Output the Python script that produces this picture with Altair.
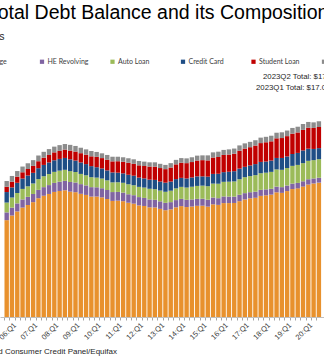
import altair as alt
import pandas as pd

# ---------------- data (trillions of dollars) ----------------
quarters = ["2005Q4"] + [f"{y}Q{q}" for y in range(2006, 2020) for q in range(1, 5)] + ["2020Q1", "2020Q2", "2020Q3"]

mortgage = [7.10,
            7.44, 7.74, 8.02, 8.21,
            8.42, 8.71, 8.89, 9.02,
            9.17, 9.24, 9.29, 9.19,
            9.15, 9.03, 8.95, 8.83,
            8.83, 8.77, 8.65, 8.51,
            8.53, 8.49, 8.38, 8.31,
            8.18, 8.14, 8.04, 8.03,
            7.93, 7.83, 7.89, 8.04,
            8.13, 8.06, 8.10, 8.15,
            8.16, 8.09, 8.26, 8.22,
            8.35, 8.35, 8.36, 8.49,
            8.62, 8.70, 8.74, 8.88,
            8.92, 8.97, 9.14, 9.10,
            9.23, 9.38, 9.43, 9.56,
            9.71, 9.79, 9.85]
he_revolving = [0.57,
                0.58, 0.59, 0.60, 0.60,
                0.60, 0.61, 0.63, 0.65,
                0.66, 0.68, 0.69, 0.71,
                0.71, 0.71, 0.70, 0.69,
                0.68, 0.67, 0.66, 0.65,
                0.64, 0.63, 0.62, 0.62,
                0.61, 0.59, 0.58, 0.56,
                0.55, 0.54, 0.53, 0.53,
                0.53, 0.53, 0.52, 0.51,
                0.51, 0.51, 0.50, 0.49,
                0.49, 0.48, 0.47, 0.47,
                0.46, 0.45, 0.45, 0.44,
                0.44, 0.43, 0.42, 0.42,
                0.41, 0.40, 0.40, 0.39,
                0.39, 0.37, 0.36]
auto_loan = [0.72,
             0.74, 0.76, 0.77, 0.77,
             0.77, 0.79, 0.80, 0.81,
             0.81, 0.81, 0.81, 0.79,
             0.77, 0.75, 0.74, 0.73,
             0.71, 0.71, 0.71, 0.71,
             0.71, 0.72, 0.73, 0.73,
             0.75, 0.76, 0.78, 0.78,
             0.79, 0.81, 0.84, 0.86,
             0.88, 0.90, 0.93, 0.95,
             0.96, 0.99, 1.02, 1.06,
             1.07, 1.09, 1.11, 1.14,
             1.17, 1.18, 1.21, 1.22,
             1.22, 1.24, 1.26, 1.27,
             1.28, 1.30, 1.32, 1.33,
             1.35, 1.34, 1.36]
credit_card = [0.77,
               0.74, 0.75, 0.76, 0.79,
               0.78, 0.80, 0.83, 0.85,
               0.85, 0.86, 0.87, 0.87,
               0.84, 0.84, 0.82, 0.81,
               0.76, 0.74, 0.73, 0.73,
               0.70, 0.69, 0.70, 0.70,
               0.68, 0.67, 0.67, 0.68,
               0.66, 0.67, 0.67, 0.68,
               0.66, 0.67, 0.68, 0.70,
               0.68, 0.70, 0.71, 0.73,
               0.71, 0.73, 0.75, 0.78,
               0.76, 0.78, 0.81, 0.83,
               0.82, 0.83, 0.84, 0.87,
               0.85, 0.87, 0.88, 0.93,
               0.89, 0.82, 0.81]
student_loan = [0.39,
                0.42, 0.45, 0.46, 0.48,
                0.51, 0.51, 0.53, 0.55,
                0.58, 0.59, 0.61, 0.64,
                0.66, 0.68, 0.69, 0.72,
                0.76, 0.76, 0.78, 0.81,
                0.84, 0.85, 0.87, 0.87,
                0.90, 0.91, 0.96, 0.97,
                0.99, 0.99, 1.03, 1.08,
                1.11, 1.12, 1.13, 1.16,
                1.19, 1.19, 1.20, 1.23,
                1.26, 1.26, 1.28, 1.31,
                1.34, 1.34, 1.36, 1.38,
                1.41, 1.41, 1.44, 1.46,
                1.49, 1.49, 1.50, 1.51,
                1.54, 1.54, 1.55]
other = [0.42,
         0.42, 0.41, 0.42, 0.42,
         0.42, 0.42, 0.43, 0.43,
         0.42, 0.42, 0.41, 0.42,
         0.41, 0.40, 0.39, 0.39,
         0.36, 0.35, 0.35, 0.34,
         0.33, 0.33, 0.33, 0.33,
         0.32, 0.32, 0.31, 0.32,
         0.31, 0.31, 0.32, 0.33,
         0.34, 0.35, 0.35, 0.36,
         0.35, 0.37, 0.38, 0.39,
         0.37, 0.38, 0.38, 0.39,
         0.38, 0.39, 0.39, 0.40,
         0.40, 0.41, 0.41, 0.42,
         0.41, 0.42, 0.42, 0.43,
         0.42, 0.41, 0.42]

series_names = ["Mortgage", "HE Revolving", "Auto Loan", "Credit Card", "Student Loan", "Other"]
series_colors = ["#E8912D", "#8064A2", "#9BBB59", "#1F4E85", "#C00000", "#8C8C8C"]
series_values = [mortgage, he_revolving, auto_loan, credit_card, student_loan, other]

tick_labels = ["06:Q1", "07:Q1", "08:Q1", "09:Q1", "10:Q1", "11:Q1", "12:Q1", "13:Q1",
               "14:Q1", "15:Q1", "16:Q1", "17:Q1", "18:Q1", "19:Q1", "20:Q1"]

title_text = "Total Debt Balance and its Composition"
subtitle_text = "Trillions of Dollars"
total_lines = ["2023Q2 Total: $17.06 Trillion", "2023Q1 Total: $17.05 Trillion"]
source_text = "Source: New York Fed Consumer Credit Panel/Equifax"

rows = []
for k, (name, vals) in enumerate(zip(series_names, series_values)):
    for i, (q, v) in enumerate(zip(quarters, vals)):
        rows.append({"idx": i, "quarter": q, "series": name, "order": k, "value": v})
df = pd.DataFrame(rows)

# ---------------- layout ----------------
W, H = 324, 246
TOP, BOTTOM = 71, 45
QW = 5.46  # pixels per quarter

label_js = "[" + ",".join(f"'{t}'" for t in tick_labels) + "]"
label_expr = f"((datum.value - 1) % 4 === 0) ? {label_js}[(datum.value - 1) / 4] : ''"

FONT = "Liberation Sans"

bars = alt.Chart(df).mark_bar(size=4.4).encode(
    x=alt.X("idx:Q",
            scale=alt.Scale(domain=[-0.319, 59.02], nice=False, zero=False),
            axis=alt.Axis(values=list(range(len(quarters))), labelExpr=label_expr,
                          labelAngle=-45, labelAlign="right", labelBaseline="top",
                          labelFontSize=7.5, labelFont=FONT, labelColor="#404040",
                          labelPadding=1, labelOverlap=False, labelBound=False, labelFlush=False,
                          tickSize=3, tickOffset=-QW / 2, labelOffset=QW / 2,
                          tickColor="#A6A6A6", domainColor="#BFBFBF", grid=False, title=None)),
    y=alt.Y("value:Q", stack="zero",
            scale=alt.Scale(domain=[0, 18.035], nice=False),
            axis=None),
    color=alt.Color("series:N",
                    scale=alt.Scale(domain=series_names, range=series_colors),
                    legend=alt.Legend(orient="none", legendX=-32, legendY=-13,
                                      direction="horizontal", columns=6, gridAlign="all",
                                      columnPadding=20.5, title=None, symbolType="square",
                                      symbolSize=18, symbolStrokeWidth=0, labelOffset=2,
                                      labelFont="Lato", labelFontSize=7, labelColor="#404040",
                                      padding=0)),
    order=alt.Order("order:Q", sort="ascending"),
)

def text_layer(txt, x, y, size, align="left", color="#000000", font=FONT):
    return alt.Chart(pd.DataFrame({"t": [txt]})).mark_text(
        align=align, baseline="alphabetic", fontSize=size, font=font, color=color
    ).encode(x=alt.value(x), y=alt.value(y), text="t:N")

title = text_layer(title_text, -12, 19 - TOP, 19.5)
subtitle = text_layer(subtitle_text, 4.5, 40 - TOP, 10.5, align="right", color="#262626")
tot1 = text_layer(total_lines[0], 263, 79 - TOP, 7.8, color="#262626")
tot2 = text_layer(total_lines[1], 256, 90 - TOP, 7.8, color="#262626")
source = text_layer(source_text, 117, 354 - TOP, 8, align="right", color="#262626")

chart = alt.layer(bars, title, subtitle, tot1, tot2, source).properties(
    width=W, height=H,
    autosize=alt.AutoSizeParams(type="none"),
    padding={"left": 0, "right": 0, "top": TOP, "bottom": BOTTOM},
    background="white",
).configure_view(stroke=None)

chart.save("out.html", embed_options={"renderer": "svg", "actions": False})
